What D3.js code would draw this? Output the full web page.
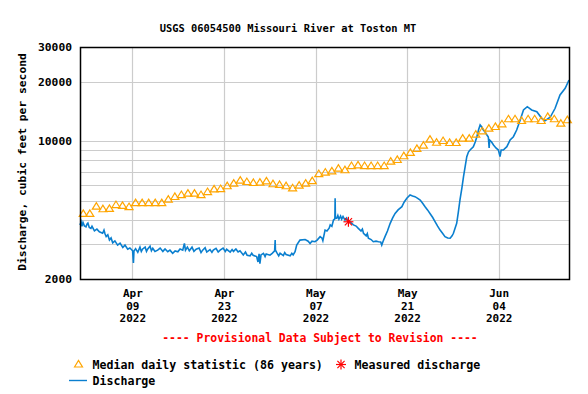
<!DOCTYPE html>
<html>
<head>
<meta charset="utf-8">
<script src="https://cdn.jsdelivr.net/npm/d3@7"></script>
<style>
  body { margin: 0; background: #fff; }
  svg text { font-family: "DejaVu Sans Mono", monospace; font-weight: bold; fill: #000; }
</style>
</head>
<body>
<div id="chart"></div>
<script>
/* ── data ── */
const TITLE = "USGS 06054500 Missouri River at Toston MT";
const yTickValues = [2000, 10000, 20000, 30000];
const yGridValues = [3000, 4000, 5000, 6000, 7000, 8000, 9000, 10000, 20000];
const xTickDates = ["2022-04-09", "2022-04-23", "2022-05-07", "2022-05-21", "2022-06-04"];
const xDomain = ["2022-04-01T00:00", "2022-06-14T18:00"];

// one median per day, Apr 1 .. Jun 14 2022
const medianFirstDay = "2022-04-01";
const medianCfs = [
  4300, 4300, 4680, 4540, 4560, 4770, 4720, 4660, 4880, 4880,
  4880, 4880, 4880, 5080, 5240, 5360, 5450, 5450, 5360, 5550,
  5730, 5750, 5940, 6120, 6340, 6240, 6170, 6190, 6290, 6080,
  6030, 5940, 5800, 5980, 6120, 6310, 6850, 6970, 7070, 7290,
  7160, 7520, 7580, 7520, 7520, 7520, 7520, 7910, 8070, 8430,
  8760, 9180, 9540, 10230, 9870, 10070, 9840, 9840, 10350, 10350,
  10840, 11280, 11630, 11860, 12240, 12980, 12980, 12720, 12980, 12980,
  12720, 13330, 12980, 12330, 12830
];

const measured = [["2022-05-12T00:45", 3900]];

// 15-minute record thinned to a few readings per day (jitter kept where visible)
const discharge = [
  ["2022-04-01T00:00", 3760], ["2022-04-01T04:00", 3900], ["2022-04-01T07:00", 3700], ["2022-04-01T11:00", 3870],
  ["2022-04-01T16:00", 3720], ["2022-04-01T22:00", 3680], ["2022-04-02T02:00", 3800], ["2022-04-02T05:00", 3840],
  ["2022-04-02T10:00", 3650], ["2022-04-02T16:00", 3610], ["2022-04-02T20:00", 3700], ["2022-04-03T05:00", 3510],
  ["2022-04-03T14:00", 3580], ["2022-04-03T23:00", 3470], ["2022-04-04T11:00", 3410], ["2022-04-04T16:00", 3540],
  ["2022-04-04T20:00", 3380], ["2022-04-05T00:00", 3280], ["2022-04-05T06:00", 3350], ["2022-04-05T12:00", 3150],
  ["2022-04-05T18:00", 3230], ["2022-04-06T00:00", 3050], ["2022-04-06T08:00", 3120], ["2022-04-06T18:00", 2970],
  ["2022-04-07T03:00", 3040], ["2022-04-07T13:00", 2890], ["2022-04-07T21:00", 2970], ["2022-04-08T07:00", 2830],
  ["2022-04-08T15:00", 2870], ["2022-04-09T01:00", 2780], ["2022-04-09T04:00", 2410], ["2022-04-09T06:00", 2775],
  ["2022-04-09T12:00", 2850], ["2022-04-09T20:00", 2730], ["2022-04-10T04:00", 2900], ["2022-04-10T09:00", 2760],
  ["2022-04-10T14:00", 2840], ["2022-04-10T23:00", 2900], ["2022-04-11T04:00", 2760], ["2022-04-11T08:00", 2830],
  ["2022-04-11T17:00", 2930], ["2022-04-11T22:00", 2780], ["2022-04-12T03:00", 2860], ["2022-04-12T11:00", 2760],
  ["2022-04-12T21:00", 2800], ["2022-04-13T06:00", 2870], ["2022-04-13T16:00", 2760], ["2022-04-14T00:00", 2840],
  ["2022-04-14T10:00", 2750], ["2022-04-14T18:00", 2800], ["2022-04-15T04:00", 2700], ["2022-04-15T13:00", 2775],
  ["2022-04-15T23:00", 2750], ["2022-04-16T07:00", 2840], ["2022-04-16T17:00", 2800], ["2022-04-16T23:00", 3030],
  ["2022-04-17T03:00", 2800], ["2022-04-17T10:00", 2900], ["2022-04-17T17:00", 2780], ["2022-04-18T03:00", 2900],
  ["2022-04-18T10:00", 2760], ["2022-04-18T18:00", 2830], ["2022-04-19T05:00", 2870], ["2022-04-19T12:00", 2720],
  ["2022-04-19T18:00", 2800], ["2022-04-20T03:00", 2880], ["2022-04-20T09:00", 2740], ["2022-04-20T21:00", 2820],
  ["2022-04-21T04:00", 2730], ["2022-04-21T09:00", 2800], ["2022-04-21T19:00", 2860], ["2022-04-22T03:00", 2740],
  ["2022-04-22T10:00", 2800], ["2022-04-22T21:00", 2870], ["2022-04-23T05:00", 2760], ["2022-04-23T10:00", 2830],
  ["2022-04-23T23:00", 2740], ["2022-04-24T06:00", 2820], ["2022-04-24T11:00", 2760], ["2022-04-24T20:00", 2840],
  ["2022-04-25T04:00", 2740], ["2022-04-25T11:00", 2780], ["2022-04-25T23:00", 2650], ["2022-04-26T07:00", 2740],
  ["2022-04-26T13:00", 2640], ["2022-04-27T00:00", 2620], ["2022-04-27T06:00", 2700], ["2022-04-27T11:00", 2640],
  ["2022-04-28T00:00", 2600], ["2022-04-28T05:00", 2440], ["2022-04-28T09:00", 2680], ["2022-04-28T12:00", 2390],
  ["2022-04-28T16:00", 2650], ["2022-04-29T01:00", 2700], ["2022-04-29T07:00", 2600], ["2022-04-29T11:00", 2680],
  ["2022-04-30T01:00", 2640], ["2022-04-30T09:00", 2700], ["2022-04-30T18:00", 2775], ["2022-04-30T20:00", 3150],
  ["2022-04-30T21:00", 2800], ["2022-05-01T02:00", 2720], ["2022-05-01T09:00", 2620], ["2022-05-01T14:00", 2700],
  ["2022-05-02T02:00", 2630], ["2022-05-02T07:00", 2720], ["2022-05-02T12:00", 2660], ["2022-05-03T03:00", 2620],
  ["2022-05-03T09:00", 2700], ["2022-05-03T14:00", 2650], ["2022-05-03T21:00", 2750], ["2022-05-04T03:00", 2970],
  ["2022-05-04T15:00", 3150], ["2022-05-05T10:00", 3170], ["2022-05-05T21:00", 3110], ["2022-05-06T04:00", 3030],
  ["2022-05-06T11:00", 3110], ["2022-05-06T22:00", 3090], ["2022-05-07T06:00", 3150], ["2022-05-07T17:00", 3280],
  ["2022-05-08T00:00", 3220], ["2022-05-08T03:00", 3130], ["2022-05-08T11:00", 3540], ["2022-05-08T18:00", 3500],
  ["2022-05-09T02:00", 3620], ["2022-05-09T06:00", 3760], ["2022-05-09T12:00", 3700], ["2022-05-09T18:00", 3980],
  ["2022-05-09T23:00", 4030], ["2022-05-10T00:00", 5130], ["2022-05-10T01:00", 4080], ["2022-05-10T06:00", 4060],
  ["2022-05-10T10:00", 4200], ["2022-05-10T14:00", 4020], ["2022-05-10T20:00", 4170], ["2022-05-11T00:00", 4020],
  ["2022-05-11T05:00", 4150], ["2022-05-11T12:00", 3980], ["2022-05-11T18:00", 4080], ["2022-05-12T01:00", 3900],
  ["2022-05-12T07:00", 3890], ["2022-05-12T19:00", 3760], ["2022-05-13T05:00", 3710], ["2022-05-13T13:00", 3610],
  ["2022-05-13T23:00", 3500], ["2022-05-14T04:00", 3580], ["2022-05-14T08:00", 3410], ["2022-05-14T18:00", 3310],
  ["2022-05-14T22:00", 3400], ["2022-05-15T02:00", 3220], ["2022-05-15T12:00", 3170], ["2022-05-15T20:00", 3090],
  ["2022-05-16T06:00", 3110], ["2022-05-16T15:00", 3090], ["2022-05-16T23:00", 3080], ["2022-05-17T03:00", 2970],
  ["2022-05-17T08:00", 3110], ["2022-05-17T15:00", 3280], ["2022-05-18T00:00", 3500], ["2022-05-18T10:00", 3830],
  ["2022-05-18T19:00", 4080], ["2022-05-19T04:00", 4300], ["2022-05-19T15:00", 4480], ["2022-05-20T05:00", 4650],
  ["2022-05-20T13:00", 4900], ["2022-05-20T23:00", 5130], ["2022-05-21T11:00", 5330], ["2022-05-21T20:00", 5270],
  ["2022-05-22T05:00", 5230], ["2022-05-22T15:00", 5130], ["2022-05-23T00:00", 5030], ["2022-05-23T09:00", 4840],
  ["2022-05-23T18:00", 4650], ["2022-05-24T03:00", 4480], ["2022-05-24T12:00", 4300], ["2022-05-24T22:00", 4100],
  ["2022-05-25T07:00", 3900], ["2022-05-25T16:00", 3710], ["2022-05-26T01:00", 3540], ["2022-05-26T10:00", 3410],
  ["2022-05-26T19:00", 3280], ["2022-05-27T05:00", 3230], ["2022-05-27T14:00", 3220], ["2022-05-27T21:00", 3310],
  ["2022-05-28T02:00", 3410], ["2022-05-28T08:00", 3620], ["2022-05-28T14:00", 3830], ["2022-05-28T20:00", 4370],
  ["2022-05-29T02:00", 5030], ["2022-05-29T09:00", 5780], ["2022-05-29T15:00", 6600], ["2022-05-29T21:00", 7420],
  ["2022-05-30T03:00", 8340], ["2022-05-30T09:00", 8800], ["2022-05-30T15:00", 9010], ["2022-05-31T03:00", 9370],
  ["2022-05-31T10:00", 9900], ["2022-05-31T16:00", 10530], ["2022-05-31T22:00", 11380], ["2022-06-01T04:00", 12070],
  ["2022-06-01T10:00", 11790], ["2022-06-01T16:00", 11380], ["2022-06-01T22:00", 11120], ["2022-06-02T05:00", 10740],
  ["2022-06-02T10:00", 10490], ["2022-06-02T13:00", 9230], ["2022-06-02T15:00", 10130], ["2022-06-02T22:00", 9900],
  ["2022-06-03T05:00", 9560], ["2022-06-03T14:00", 9230], ["2022-06-03T23:00", 9010], ["2022-06-04T05:00", 8340],
  ["2022-06-04T09:00", 9010], ["2022-06-04T17:00", 9010], ["2022-06-05T06:00", 9370], ["2022-06-05T18:00", 10130],
  ["2022-06-06T06:00", 10530], ["2022-06-06T18:00", 11380], ["2022-06-07T07:00", 12800], ["2022-06-07T19:00", 14380],
  ["2022-06-08T09:00", 14940], ["2022-06-09T01:00", 14380], ["2022-06-09T20:00", 14100], ["2022-06-10T14:00", 13050],
  ["2022-06-11T02:00", 12690], ["2022-06-11T21:00", 13210], ["2022-06-12T15:00", 14670], ["2022-06-13T09:00", 17130],
  ["2022-06-14T04:00", 18530], ["2022-06-14T18:00", 20410]
];

/* ── layout ── */
const W = 588, H = 394;
const margin = { top: 47, right: 19, bottom: 115, left: 80 };
const w = W - margin.left - margin.right;
const h = H - margin.top - margin.bottom;

const COLOR_Q = "#0a7fcf";
const COLOR_MED = "#ffa500";
const COLOR_MEAS = "#ff0000";
const COLOR_GRID = "#cccccc";

const parseT = d3.timeParse("%Y-%m-%dT%H:%M");
const parseD = d3.timeParse("%Y-%m-%d");

const svg = d3.select("#chart").append("svg")
  .attr("width", W).attr("height", H)
  .attr("viewBox", `0 0 ${W} ${H}`);

const g = svg.append("g").attr("transform", `translate(${margin.left},${margin.top})`);

const x = d3.scaleTime().domain(xDomain.map(parseT)).range([0, w]);
const y = d3.scaleLog().domain([2000, 30000]).range([h, 0]);

svg.append("text").attr("x", 288).attr("y", 32).attr("text-anchor", "middle")
  .style("font-size", "10.4px").text(TITLE);

/* grid */
g.append("g").selectAll("line").data(yGridValues).enter().append("line")
  .attr("x1", 0).attr("x2", w)
  .attr("y1", d => Math.round(y(d)) + 0.5).attr("y2", d => Math.round(y(d)) + 0.5)
  .attr("stroke", COLOR_GRID).attr("stroke-width", 1.2);

const xTicks = xTickDates.map(parseD);
g.append("g").selectAll("line").data(xTicks).enter().append("line")
  .attr("x1", d => Math.round(x(d)) + 0.5).attr("x2", d => Math.round(x(d)) + 0.5)
  .attr("y1", 0).attr("y2", h)
  .attr("stroke", COLOR_GRID).attr("stroke-width", 1.2);

/* axes */
const yAxisG = g.append("g")
  .call(d3.axisLeft(y).tickValues(yTickValues).tickSize(0).tickPadding(8).tickFormat(d3.format("d")));
yAxisG.select(".domain").remove();
yAxisG.selectAll("text").style("font-size", "11.3px").attr("fill", "#000");

const xAxisG = g.append("g").attr("transform", `translate(0,${h})`)
  .call(d3.axisBottom(x).tickValues(xTicks).tickSize(0).tickFormat(""));
xAxisG.select(".domain").remove();
const fmts = [d3.timeFormat("%b"), d3.timeFormat("%d"), d3.timeFormat("%Y")];
xAxisG.selectAll(".tick").each(function (d) {
  const t = d3.select(this).append("text").attr("text-anchor", "middle")
    .style("font-size", "11px").attr("fill", "#000");
  fmts.forEach((f, i) => {
    t.append("tspan").attr("x", 0).attr("y", 18 + i * 12.7).text(f(d));
  });
});

g.append("text").attr("transform", "rotate(-90)")
  .attr("x", -h / 2 + 1).attr("y", -54).attr("text-anchor", "middle")
  .style("font-size", "11.3px")
  .text("Discharge, cubic feet per second");

/* discharge line */
const line = d3.line()
  .x(d => x(parseT(d[0])))
  .y(d => y(d[1]));
g.append("path").datum(discharge)
  .attr("d", line).attr("fill", "none")
  .attr("stroke", COLOR_Q).attr("stroke-width", 1.6);

/* median triangles */
const firstDay = parseD(medianFirstDay);
const medData = medianCfs.map((v, i) => ({ t: d3.timeHour.offset(d3.timeDay.offset(firstDay, i), 12), v }));
const tri = (cx, cy) => `M${cx - 4},${cy + 3}L${cx},${cy - 3.5}L${cx + 4},${cy + 3}Z`;
g.append("g").selectAll("path").data(medData).enter().append("path")
  .attr("d", d => tri(x(d.t), y(d.v)))
  .attr("fill", "none").attr("stroke", COLOR_MED).attr("stroke-width", 1.2);

/* measured discharge star */
const star = (sel, cx, cy, r) => {
  [[r, 0], [0, r], [r * 0.72, r * 0.72], [r * 0.72, -r * 0.72]].forEach(([dx, dy]) => {
    sel.append("line").attr("x1", cx - dx).attr("x2", cx + dx)
      .attr("y1", cy - dy).attr("y2", cy + dy)
      .attr("stroke", COLOR_MEAS).attr("stroke-width", 1.2);
  });
};
measured.forEach(d => star(g, x(parseT(d[0])), y(d[1]), 5));

/* plot frame */
g.append("rect").attr("x", 0.5).attr("y", 0.5).attr("width", w).attr("height", h)
  .attr("fill", "none").attr("stroke", "#000").attr("stroke-width", 1.5);

/* provisional note */
svg.append("text").attr("x", 320).attr("y", 342).attr("text-anchor", "middle")
  .style("font-size", "11.4px").style("fill", COLOR_MEAS)
  .text("---- Provisional Data Subject to Revision ----");

/* legend */
const leg = svg.append("g");
leg.append("path").attr("d", tri(78.5, 364)).attr("fill", "none")
  .attr("stroke", COLOR_MED).attr("stroke-width", 1.2);
leg.append("text").attr("x", 92.5).attr("y", 369).style("font-size", "11.6px")
  .text("Median daily statistic (86 years)");
star(leg, 341, 364.5, 5);
leg.append("text").attr("x", 354.5).attr("y", 369).style("font-size", "11.6px")
  .text("Measured discharge");
leg.append("line").attr("x1", 69).attr("x2", 87).attr("y1", 380.5).attr("y2", 380.5)
  .attr("stroke", COLOR_Q).attr("stroke-width", 1.4);
leg.append("text").attr("x", 92.5).attr("y", 385).style("font-size", "11.6px")
  .text("Discharge");
</script>
</body>
</html>
